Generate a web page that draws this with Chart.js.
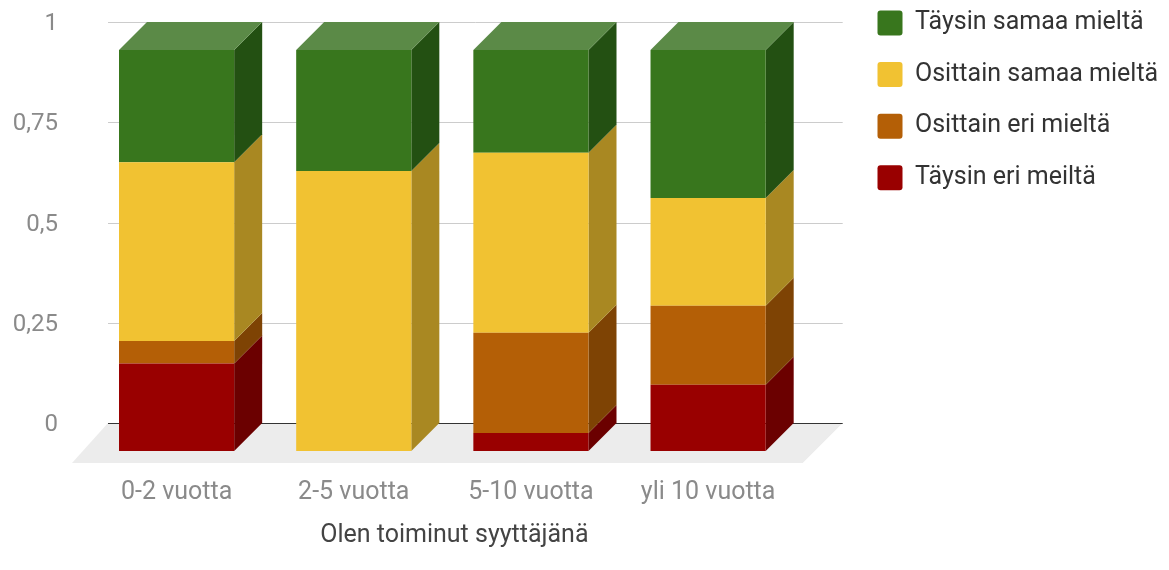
<!DOCTYPE html>
<html>
<head>
<meta charset="utf-8">
<script src="https://cdn.jsdelivr.net/npm/chart.js@4"></script>
<style>
  body { margin: 0; background: #fff; }
</style>
</head>
<body>
<canvas id="chart" width="1169" height="570"></canvas>
<script>
const categories = ["0-2 vuotta", "2-5 vuotta", "5-10 vuotta", "yli 10 vuotta"];
const taysinEri = [0.218, 0, 0.045, 0.165];
const osinEri = [0.056, 0, 0.25, 0.197];
const osinSamaa = [0.446, 0.698, 0.449, 0.269];
const taysinSamaa = [0.28, 0.302, 0.256, 0.369];
const yTicks = [0, 0.25, 0.5, 0.75, 1];
const yTickLabels = ["0", "0,25", "0,5", "0,75", "1"];

const frontColors = ["#990000", "#b45f06", "#f1c232", "#38761d"];
const sideColors = ["#6b0000", "#7e4304", "#a98822", "#235012"];
const topColor = "#5b8a47";
const depth = 28;
const floorDepth = 40;

const cube = {
  id: "cube",
  afterLayout(chart) {
    // legend and axis title sit off the plot centre in the original
    const legend = chart.legend;
    const pad = legend.options.labels.padding;
    legend.left = 877.5 - pad;
    legend.right = chart.width;
    legend.top = 10.5 - pad;
    legend.bottom = chart.height;
    chart.scales.x.right += 24;
  },
  beforeDatasetsDraw(chart) {
    const { ctx, chartArea, scales } = chart;
    const gridLeft = chartArea.left + 20;
    const gridRight = chartArea.right + 46;
    const y0 = scales.yBack.getPixelForValue(0);

    ctx.save();
    ctx.fillStyle = "#ececec";
    ctx.beginPath();
    ctx.moveTo(gridLeft, y0);
    ctx.lineTo(gridRight, y0);
    ctx.lineTo(gridRight - floorDepth, y0 + floorDepth);
    ctx.lineTo(gridLeft - floorDepth + 4, y0 + floorDepth);
    ctx.closePath();
    ctx.fill();

    for (const tick of yTicks) {
      const y = Math.round(scales.yBack.getPixelForValue(tick)) + 0.5;
      ctx.strokeStyle = tick === 0 ? "#333333" : "#cccccc";
      ctx.lineWidth = 1;
      ctx.beginPath();
      ctx.moveTo(gridLeft, y);
      ctx.lineTo(gridRight, y);
      ctx.stroke();
    }

    chart.data.datasets.forEach((ds, i) => {
      chart.getDatasetMeta(i).data.forEach((bar, j) => {
        if (!ds.data[j]) return;
        const right = bar.x + bar.width / 2;
        ctx.fillStyle = sideColors[i];
        ctx.beginPath();
        ctx.moveTo(right, bar.y);
        ctx.lineTo(right + depth, bar.y - depth);
        ctx.lineTo(right + depth, bar.base - depth);
        ctx.lineTo(right, bar.base);
        ctx.closePath();
        ctx.fill();
      });
    });

    const last = chart.data.datasets.length - 1;
    chart.getDatasetMeta(last).data.forEach((bar) => {
      const left = bar.x - bar.width / 2;
      const right = bar.x + bar.width / 2;
      ctx.fillStyle = topColor;
      ctx.beginPath();
      ctx.moveTo(left, bar.y);
      ctx.lineTo(left + depth, bar.y - depth);
      ctx.lineTo(right + depth, bar.y - depth);
      ctx.lineTo(right, bar.y);
      ctx.closePath();
      ctx.fill();
    });
    ctx.restore();
  }
};

new Chart(document.getElementById("chart"), {
  type: "bar",
  data: {
    labels: categories,
    datasets: [
      { label: "Täysin eri meiltä", data: taysinEri, backgroundColor: frontColors[0] },
      { label: "Osittain eri mieltä", data: osinEri, backgroundColor: frontColors[1] },
      { label: "Osittain samaa mieltä", data: osinSamaa, backgroundColor: frontColors[2] },
      { label: "Täysin samaa mieltä", data: taysinSamaa, backgroundColor: frontColors[3] }
    ]
  },
  options: {
    responsive: false,
    animation: false,
    layout: { autoPadding: false, padding: { top: 22, right: 106.75, bottom: 0, left: 0 } },
    datasets: { bar: { barPercentage: 0.65, categoryPercentage: 1 } },
    plugins: {
      tooltip: { enabled: false },
      legend: {
        position: "right",
        align: "start",
        reverse: true,
        onClick: null,
        labels: {
          color: "#333333",
          font: { family: "Roboto", size: 25 },
          boxWidth: 25,
          boxHeight: 25,
          useBorderRadius: true,
          borderRadius: 3,
          padding: 26.6
        }
      }
    },
    scales: {
      x: {
        stacked: true,
        afterFit(scale) { scale.height = 119; },
        grid: { display: false },
        border: { display: false },
        ticks: { color: "#8a8a8a", font: { family: "Roboto", size: 25 }, padding: 19, maxRotation: 0 },
        title: {
          display: true,
          text: "Olen toiminut syyttäjänä",
          color: "#444444",
          font: { family: "Roboto", size: 25 },
          padding: { top: 0, bottom: 19 }
        }
      },
      y: {
        stacked: true,
        display: false,
        min: 0,
        max: 1.0698
      },
      yBack: {
        type: "linear",
        position: "left",
        min: -0.0698,
        max: 1,
        afterFit(scale) { scale.width = 88; },
        afterBuildTicks(scale) { scale.ticks = yTicks.map((value) => ({ value })); },
        // tick length instead of tick padding, padding would push the plot top down
        grid: { display: false, tickLength: 30 },
        border: { display: false },
        ticks: {
          color: "#8a8a8a",
          font: { family: "Roboto", size: 24 },
          padding: 0,
          labelOffset: 2,
          callback: (value) => yTickLabels[yTicks.indexOf(value)]
        }
      }
    }
  },
  plugins: [cube]
});
</script>
</body>
</html>
